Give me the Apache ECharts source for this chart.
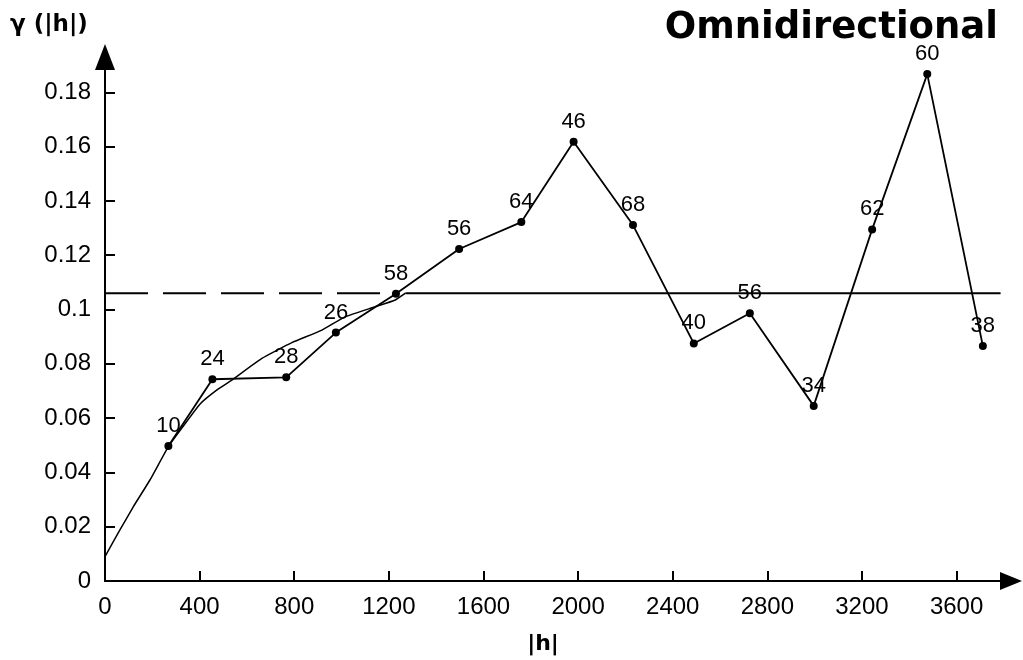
<!DOCTYPE html>
<html>
<head>
<meta charset="utf-8">
<style>
  html, body { margin: 0; padding: 0; background: #fff; }
  #chart { width: 1023px; height: 660px; }
</style>
<script src="https://cdn.jsdelivr.net/npm/echarts@6/dist/echarts.min.js"></script>
</head>
<body>
<div id="chart"></div>
<script>
// Experimental omnidirectional semivariogram: lag distance |h|, semivariance, number of pairs
const lags   = [268, 454, 766, 976, 1230, 1497, 1760, 1981, 2232, 2489, 2726, 2996, 3243, 3476, 3711];
const gamma  = [0.0497, 0.0743, 0.0750, 0.0915, 0.1058, 0.1223, 0.1322, 0.1618, 0.1311, 0.0875, 0.0986, 0.0645, 0.1295, 0.1867, 0.0866];
const pairs  = [10, 24, 28, 26, 58, 56, 64, 46, 68, 40, 56, 34, 62, 60, 38];

// Fitted model curve up to the range
const modelLags  = [0, 63, 120, 190, 268, 324, 402, 472, 536, 663, 790, 917, 1015, 1142, 1227, 1270];
const modelGamma = [0.009, 0.0188, 0.0274, 0.0372, 0.0495, 0.0562, 0.0652, 0.0703, 0.0740, 0.0820, 0.0878, 0.0924, 0.0973, 0.1010, 0.1035, 0.106];

// Sill: dashed reference up to the range, solid plateau beyond it
const sill = 0.106;
const sillDashLags = [0, 1180];
const sillPlateauLags = [1270, 3786];

// Axis ticks
const lagTicks   = [0, 400, 800, 1200, 1600, 2000, 2400, 2800, 3200, 3600];
const gammaTicks = [0, 0.02, 0.04, 0.06, 0.08, 0.1, 0.12, 0.14, 0.16, 0.18];

const FONT = '"Liberation Sans", Arial, sans-serif';

const chart = echarts.init(document.getElementById('chart'), null, { renderer: 'canvas' });

const option = {
  backgroundColor: '#fff',
  animation: false,
  grid: { left: 105, right: 12, top: 57, bottom: 79, containLabel: false },
  xAxis: {
    type: 'value', min: 0, max: 3830,
    splitLine: { show: false },
    axisLine: { show: true, onZero: false, symbol: ['none', 'triangle'], symbolSize: [18, 22],
                lineStyle: { color: '#000', width: 2 } },
    axisTick: { show: true, inside: true, length: 10, lineStyle: { color: '#000', width: 2 },
                customValues: lagTicks },
    axisLabel: { color: '#000', fontFamily: FONT, fontSize: 24, margin: 14,
                 customValues: lagTicks, formatter: v => String(v) }
  },
  yAxis: {
    type: 'value', min: 0, max: 0.193,
    splitLine: { show: false },
    axisLine: { show: true, onZero: false, symbol: ['none', 'triangle'], symbolSize: [20, 26],
                lineStyle: { color: '#000', width: 2 } },
    axisTick: { show: true, inside: true, length: 10, lineStyle: { color: '#000', width: 2 },
                customValues: gammaTicks },
    axisLabel: { color: '#000', fontFamily: FONT, fontSize: 24, margin: 14,
                 customValues: gammaTicks,
                 formatter: v => String(+(+v).toFixed(2)) }
  },
  series: [
    {
      type: 'line', name: 'sill-dash',
      data: sillDashLags.map(h => [h, sill]),
      showSymbol: false, silent: true,
      lineStyle: { color: '#000', width: 2, type: [43, 15] }
    },
    {
      type: 'line', name: 'sill-plateau',
      data: sillPlateauLags.map(h => [h, sill]),
      showSymbol: false, silent: true,
      lineStyle: { color: '#000', width: 2 }
    },
    {
      type: 'line', name: 'model',
      data: modelLags.map((h, i) => [h, modelGamma[i]]),
      showSymbol: false, smooth: 0.15, silent: true,
      lineStyle: { color: '#000', width: 1.5 }
    },
    {
      type: 'line', name: 'experimental',
      data: lags.map((h, i) => [h, gamma[i], pairs[i]]),
      symbol: 'circle', symbolSize: 8,
      itemStyle: { color: '#000' },
      lineStyle: { color: '#000', width: 1.8 },
      label: {
        show: true, position: 'top', distance: 5,
        color: '#000', fontFamily: FONT, fontSize: 22,
        formatter: p => String(p.value[2])
      },
      z: 5
    }
  ],
  graphic: [
    { type: 'text', x: 998, y: 28,
      style: { text: 'Omnidirectional', fill: '#000', font: 'bold 37px "DejaVu Sans"',
               align: 'right', verticalAlign: 'middle' } },
    { type: 'text', x: 10, y: 25,
      style: { text: 'γ (|h|)', fill: '#000', font: 'bold 23px "DejaVu Sans"',
               align: 'left', verticalAlign: 'middle' } },
    { type: 'text', x: 543, y: 644,
      style: { text: '|h|', fill: '#000', font: 'bold 22px "DejaVu Sans"',
               align: 'center', verticalAlign: 'middle' } }
  ]
};

chart.setOption(option);
</script>
</body>
</html>
